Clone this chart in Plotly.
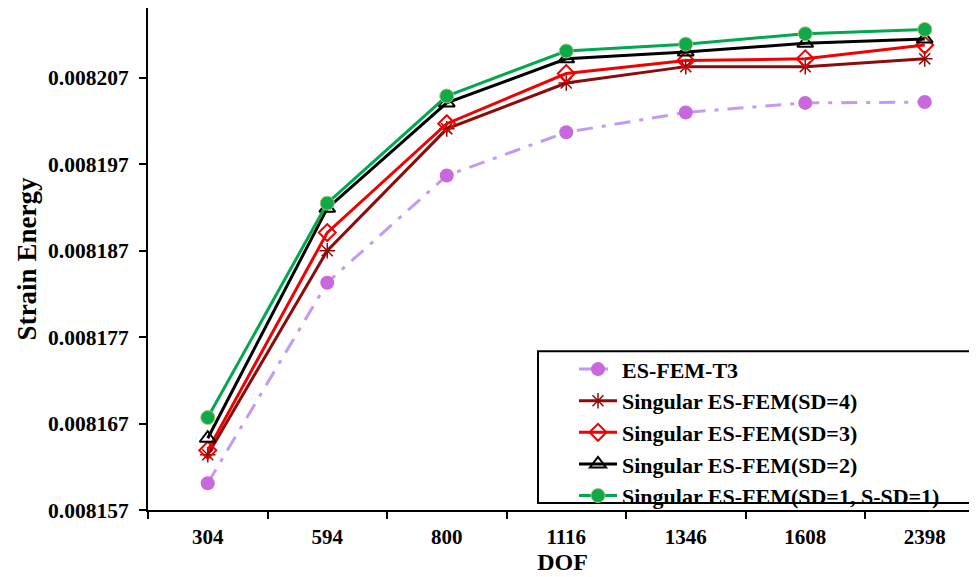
import plotly.graph_objects as go

dof_labels = ["304", "594", "800", "1116", "1346", "1608", "2398"]

es_fem_t3 = [0.0081601, 0.0081833, 0.0081957, 0.0082007, 0.0082030, 0.0082041, 0.0082042]
sd4 = [0.0081634, 0.0081870, 0.0082011, 0.0082064, 0.0082083, 0.0082083, 0.0082092]
sd3 = [0.0081639, 0.0081891, 0.0082017, 0.0082075, 0.0082090, 0.0082092, 0.0082108]
sd2 = [0.0081653, 0.0081919, 0.0082041, 0.0082092, 0.0082100, 0.0082110, 0.0082115]
sd1 = [0.0081677, 0.0081925, 0.0082049, 0.0082101, 0.0082109, 0.0082121, 0.0082126]

y_ticks = [0.008157, 0.008167, 0.008177, 0.008187, 0.008197, 0.008207]

FONT = "Liberation Serif, Times New Roman, serif"

# page offset of the figure (default body margin)
OFF = 8
PLOT_L, PLOT_T, PLOT_B, PLOT_R = 148, 7, 510, 977
W, H = 977 - OFF, 577 - OFF
PW = PLOT_R - PLOT_L
PH = PLOT_B - PLOT_T


def px_x(x):
    return (x - PLOT_L) / PW


def px_y(y):
    return (PLOT_B - y) / PH


fig = go.Figure()

fig.add_trace(go.Scatter(
    x=dof_labels, y=es_fem_t3, name="ES-FEM-T3", mode="lines+markers",
    line=dict(color="#C29AF6", width=3, dash="16px,9px,4px,9px"),
    marker=dict(symbol="circle", size=14, color="#C868DC", line=dict(width=0)),
))
fig.add_trace(go.Scatter(
    x=dof_labels, y=sd4, name="Singular ES-FEM(SD=4)", mode="lines+markers",
    line=dict(color="#8E0B0B", width=3),
    marker=dict(symbol="asterisk-open", size=13, color="#8E0B0B", line=dict(width=1.5, color="#8E0B0B")),
))
fig.add_trace(go.Scatter(
    x=dof_labels, y=sd3, name="Singular ES-FEM(SD=3)", mode="lines+markers",
    line=dict(color="#F00000", width=3),
    marker=dict(symbol="diamond-open", size=13, color="#F00000", line=dict(width=2, color="#F00000")),
))
fig.add_trace(go.Scatter(
    x=dof_labels, y=sd2, name="Singular ES-FEM(SD=2)", mode="lines+markers",
    line=dict(color="#000000", width=3),
    marker=dict(symbol="triangle-up-open", size=14, color="#000000", line=dict(width=2, color="#000000")),
))
fig.add_trace(go.Scatter(
    x=dof_labels, y=sd1, name="Singular ES-FEM(SD=1, S-SD=1)", mode="lines+markers",
    line=dict(color="#00A84F", width=3),
    marker=dict(symbol="circle", size=14, color="#0FA84A", line=dict(width=1, color="#A8C870")),
))

fig.update_layout(
    width=W, height=H,
    margin=dict(l=PLOT_L - OFF, r=0, t=0, b=H - (PLOT_B - OFF), pad=0),
    paper_bgcolor="white", plot_bgcolor="white",
    font=dict(family=FONT, color="black", size=20, weight="bold"),
    legend=dict(
        x=px_x(574), y=px_y(348), xanchor="left", yanchor="top",
        bgcolor="rgba(0,0,0,0)", borderwidth=0,
        font=dict(family=FONT, size=22, weight="bold", color="black"),
        itemwidth=38, tracegroupgap=0,
    ),
    shapes=[dict(
        type="rect", xref="paper", yref="paper",
        x0=px_x(538), x1=1.05, y0=px_y(503), y1=px_y(351),
        line=dict(color="black", width=2), fillcolor="rgba(0,0,0,0)",
    )],
)

fig.update_xaxes(
    type="category", automargin=False,
    range=[-0.5, PW / 119.5 - 0.5],
    showline=True, linecolor="black", linewidth=2, mirror=True,
    ticks="outside", tickson="boundaries", ticklen=7, tickwidth=2, tickcolor="black",
    showgrid=False, zeroline=False,
    tickfont=dict(family=FONT, size=21, weight="bold"),
    ticklabelstandoff=7,
    title=dict(text="DOF", font=dict(family=FONT, size=24, weight="bold"), standoff=0),
)
fig.update_yaxes(
    automargin=False,
    range=[0.008157, 0.008157 + PH / 86.6 * 1e-5],
    tickvals=y_ticks, tickformat=".6f",
    showline=True, linecolor="black", linewidth=2,
    ticks="outside", ticklen=7, tickwidth=2, tickcolor="black",
    showgrid=False, zeroline=False,
    tickfont=dict(family=FONT, size=21.5, weight="bold"),
    ticklabelstandoff=6,
    title=dict(text="Strain Energy", font=dict(family=FONT, size=27, weight="bold"), standoff=4),
)

fig.write_html(
    "out.html",
    post_script="document.documentElement.style.overflow='hidden';",
)
